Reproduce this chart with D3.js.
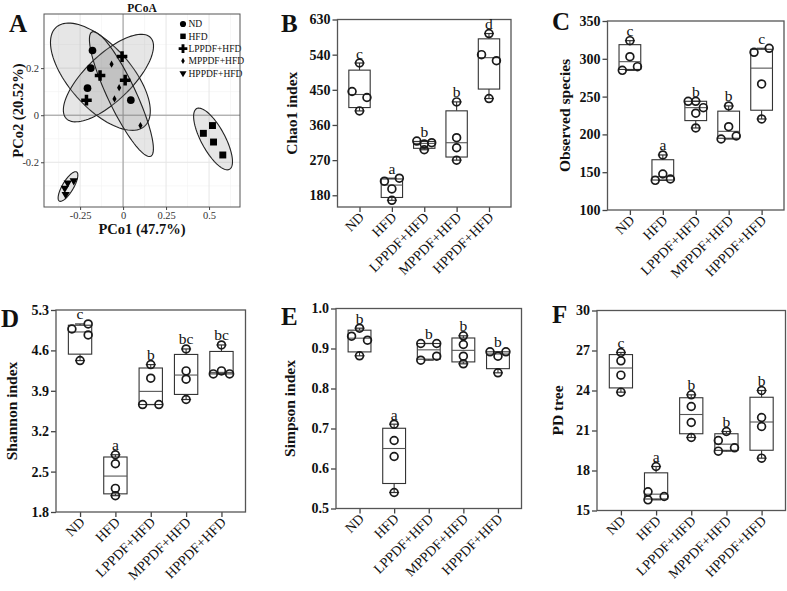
<!DOCTYPE html>
<html><head><meta charset="utf-8">
<script src="https://cdn.jsdelivr.net/npm/d3@7"></script>
<style>
body{margin:0;background:#fff}
svg{display:block}
text{font-family:"Liberation Serif","Times New Roman",serif}
</style>
</head><body>
<svg id="chart" width="787" height="591"></svg>
<script>
// ---------------- DATA ----------------
const groups = ["ND","HFD","LPPDF+HFD","MPPDF+HFD","HPPDF+HFD"];

// PCoA coordinates [PCo1, PCo2]
const pcoaND    = [[-0.178,0.275],[-0.188,0.200],[-0.207,0.115],[0.045,0.064]];
const pcoaHFD   = [[0.467,-0.077],[0.520,-0.044],[0.526,-0.114],[0.580,-0.169]];
const pcoaLPPDF = [[-0.006,0.249],[-0.134,0.169],[0.012,0.149],[-0.213,0.064]];
const pcoaMPPDF = [[-0.067,0.217],[-0.023,0.117],[-0.050,0.069],[0.101,-0.044]];
const pcoaHPPDF = [[-0.287,-0.278],[-0.322,-0.288],[-0.339,-0.310],[-0.334,-0.336]];
const pcoaXTicks = [-0.25,0,0.25,0.5];
const pcoaYTicks = [-0.2,0,0.2];

// Chao1 index
const chao1 = [[518.6,445.7,430.3,396.0],[223.7,216.0,196.3,167.1],[318.9,311.1,314.6,296.6],[419.1,327.4,301.7,270.0],[594.0,540.0,524.5,427.7]];
const chao1Jitter = [[0,-1,1,0],[1,-1,0,0],[-1,0,1,0],[0,0,0,0],[0,-1,1,0]];
const chao1Letters = ["c","a","b","b","d"];
const chao1Ticks = [180,270,360,450,540,630];

// Observed species
const observed = [[324.0,302.8,289.6,284.7],[172.8,147.6,141.0,139.2],[243.8,243.8,235.4,228.0,208.5],[237.6,210.2,197.9,193.9],[313.9,308.6,266.7,220.4]];
const observedJitter = [[0,0,1,-1],[0,0,1,-1],[-1,0,1,0,0],[0,0,1,-1],[1,-1,0,0]];
const observedLetters = ["c","a","b","b","c"];
const observedTicks = [100,150,200,250,300,350];

// Shannon index
const shannon = [[5.058,4.971,4.868,4.424],[2.792,2.636,2.209,2.083],[4.354,4.118,3.662,3.662],[4.625,4.245,4.101,3.749],[4.694,4.245,4.193,4.193]];
const shannonJitter = [[1,-1,1,0],[0,0,0,0],[0,0,-1,1],[0,0,0,0],[0,0,-1,1]];
const shannonLetters = ["c","a","b","bc","bc"];
const shannonTicks = [1.8,2.5,3.2,3.9,4.6,5.3];

// Simpson index
const simpson = [[0.9508,0.9308,0.9208,0.8817],[0.7108,0.670,0.630,0.540],[0.9125,0.9125,0.8808,0.8708],[0.9317,0.910,0.8808,0.8617],[0.8917,0.8917,0.8808,0.8392]];
const simpsonJitter = [[0,-1,1,0],[0,0,0,0],[-1,1,1,-1],[0,0,0,0],[-1,1,0,0]];
const simpsonLetters = ["b","a","b","b","b"];
const simpsonTicks = [0.5,0.6,0.7,0.8,0.9,1.0];

// PD tree
const pdtree = [[26.85,26.225,25.15,23.875],[18.3,16.4,16.05,15.8],[23.675,22.8,21.6,20.475],[20.925,20.25,19.7,19.45],[24.0,21.975,21.3,18.925]];
const pdtreeJitter = [[0,0,0,0],[0,-1,1,-1],[0,0,0,0],[0,-1,1,-1],[0,0,0,0]];
const pdtreeLetters = ["c","a","b","b","b"];
const pdtreeTicks = [15,18,21,24,27,30];

// ---------------- DRAWING ----------------
const svg = d3.select("#chart");
const SERIF = '"Liberation Serif","Times New Roman",serif';

function quart(sorted, p){ // (n+1)p quantile method
  const n = sorted.length, h = (n+1)*p;
  if (h <= 1) return sorted[0];
  if (h >= n) return sorted[n-1];
  const lo = Math.floor(h);
  return sorted[lo-1] + (h-lo)*(sorted[lo]-sorted[lo-1]);
}

function panelLetter(t, x, y){
  svg.append("text").attr("x",x).attr("y",y).text(t)
    .attr("font-size",25).attr("font-weight","bold").attr("fill","#111");
}

function boxPanel(o){
  const g = svg.append("g");
  const x = d3.scalePoint().domain(groups).range([o.l,o.r]).padding(0.68);
  const y = d3.scaleLinear().domain(o.domain).range([o.b,o.t]);
  const step = x.step(), bw = step*0.66, ju = step*0.23, cap = 10;

  // y axis
  g.append("g").attr("transform",`translate(${o.l},0)`)
    .call(d3.axisLeft(y).tickValues(o.ticks).tickSize(5).tickPadding(2).tickFormat(o.fmt))
    .call(s=>{
      s.select(".domain").remove();
      s.selectAll("line").attr("stroke","#444").attr("stroke-width",1.3);
      s.selectAll("text").attr("font-size",14).attr("font-weight","bold").attr("fill","#111").attr("font-family",SERIF);
    });
  // x axis
  g.append("g").attr("transform",`translate(0,${o.b})`)
    .call(d3.axisBottom(x).tickSize(5))
    .call(s=>{
      s.select(".domain").remove();
      s.selectAll("line").attr("stroke","#444").attr("stroke-width",1.3);
      s.selectAll("text").attr("x",0).attr("y",0).attr("dy",0)
        .attr("transform","translate(5,11) rotate(-45)")
        .attr("text-anchor","end").attr("font-size",14).attr("fill","#111").attr("font-family",SERIF);
    });
  // frame
  g.append("rect").attr("x",o.l).attr("y",o.t).attr("width",o.r-o.l).attr("height",o.b-o.t)
    .attr("fill","none").attr("stroke","#555").attr("stroke-width",1.3);

  o.values.forEach((vals,i)=>{
    const cx = x(groups[i]);
    const s = vals.slice().sort(d3.ascending);
    const q1 = quart(s,0.25), med = quart(s,0.5), q3 = quart(s,0.75);
    const mn = s[0], mx = s[s.length-1];
    const bg = g.append("g");
    // whiskers
    bg.append("line").attr("x1",cx).attr("x2",cx).attr("y1",y(q3)).attr("y2",y(mx)).attr("stroke","#333").attr("stroke-width",1.1);
    bg.append("line").attr("x1",cx).attr("x2",cx).attr("y1",y(q1)).attr("y2",y(mn)).attr("stroke","#333").attr("stroke-width",1.1);
    // box
    bg.append("rect").attr("x",cx-bw/2).attr("y",y(q3)).attr("width",bw).attr("height",y(q1)-y(q3))
      .attr("fill","#fff").attr("stroke","#333").attr("stroke-width",1.1);
    bg.append("line").attr("x1",cx-bw/2).attr("x2",cx+bw/2).attr("y1",y(med)).attr("y2",y(med)).attr("stroke","#555").attr("stroke-width",1.1);
    // caps
    [mn,mx].forEach(v=>{
      bg.append("line").attr("x1",cx-cap/2).attr("x2",cx+cap/2).attr("y1",y(v)).attr("y2",y(v)).attr("stroke","#333").attr("stroke-width",1.2);
    });
    // points
    vals.forEach((v,j)=>{
      bg.append("circle").attr("cx",cx + o.jitter[i][j]*ju).attr("cy",y(v)).attr("r",3.9)
        .attr("fill","none").attr("stroke","#1a1a1a").attr("stroke-width",1.7);
    });
    // significance letter
    bg.append("text").attr("x",cx).attr("y",y(mx)-4.5).attr("text-anchor","middle")
      .attr("font-size",15.5).attr("fill","#111").text(o.letters[i]);
  });

  // y title
  svg.append("text").attr("transform",`translate(${o.tx},${(o.t+o.b)/2}) rotate(-90)`)
    .attr("text-anchor","middle").attr("font-size",15.5).attr("font-weight","bold").attr("fill","#111").text(o.title);
  panelLetter(o.letter, o.lx, o.ly);
}

// ----- Panel A : PCoA -----
(function(){
  const L=44, R=240, T=14, B=207;
  const x = d3.scaleLinear().domain([-0.46,0.68]).range([L,R]);
  const y = d3.scaleLinear().domain([-0.39,0.43]).range([B,T]);
  const g = svg.append("g");
  const minorX = [-0.375,-0.125,0.125,0.375,0.625], minorY = [-0.3,-0.1,0.1,0.3];
  minorX.forEach(v=>g.append("line").attr("x1",x(v)).attr("x2",x(v)).attr("y1",T).attr("y2",B).attr("stroke","#f1f1f1").attr("stroke-width",0.6));
  minorY.forEach(v=>g.append("line").attr("y1",y(v)).attr("y2",y(v)).attr("x1",L).attr("x2",R).attr("stroke","#f1f1f1").attr("stroke-width",0.6));
  pcoaXTicks.forEach(v=>g.append("line").attr("x1",x(v)).attr("x2",x(v)).attr("y1",T).attr("y2",B).attr("stroke","#e6e6e6").attr("stroke-width",1));
  pcoaYTicks.forEach(v=>g.append("line").attr("y1",y(v)).attr("y2",y(v)).attr("x1",L).attr("x2",R).attr("stroke","#e6e6e6").attr("stroke-width",1));
  // zero reference lines
  g.append("line").attr("x1",x(0)).attr("x2",x(0)).attr("y1",T).attr("y2",B).attr("stroke","#999").attr("stroke-width",1);
  g.append("line").attr("y1",y(0)).attr("y2",y(0)).attr("x1",L).attr("x2",R).attr("stroke","#999").attr("stroke-width",1);

  const sets = [pcoaND,pcoaHFD,pcoaLPPDF,pcoaMPPDF,pcoaHPPDF];
  // 95% normal confidence ellipses computed from each group's points
  const k = Math.sqrt(5.991);
  sets.forEach(pts=>{
    const n = pts.length;
    const mx = d3.mean(pts,d=>d[0]), my = d3.mean(pts,d=>d[1]);
    let sxx=0, syy=0, sxy=0;
    pts.forEach(p=>{ sxx+=(p[0]-mx)**2; syy+=(p[1]-my)**2; sxy+=(p[0]-mx)*(p[1]-my); });
    sxx/=(n-1); syy/=(n-1); sxy/=(n-1);
    const tr = sxx+syy, det = sxx*syy-sxy*sxy;
    const l1 = tr/2 + Math.sqrt(tr*tr/4-det), l2 = tr/2 - Math.sqrt(tr*tr/4-det);
    let vx, vy;
    if (Math.abs(sxy) > 1e-12){ vx = l1-syy; vy = sxy; } else { vx = sxx>=syy?1:0; vy = sxx>=syy?0:1; }
    const nn = Math.hypot(vx,vy); vx/=nn; vy/=nn;
    const a = k*Math.sqrt(l1), b = k*Math.sqrt(Math.max(l2,0));
    const ring = d3.range(0,101).map(i=>{
      const t = i/100*2*Math.PI;
      const ex = a*Math.cos(t), ey = b*Math.sin(t);
      return [x(mx + ex*vx - ey*vy), y(my + ex*vy + ey*vx)];
    });
    g.append("path").attr("d",d3.line()(ring)+"Z").attr("fill","#808080").attr("fill-opacity",0.2)
      .attr("stroke","#222").attr("stroke-width",1.1);
  });

  const shapes = [
    {type:d3.symbolCircle, size:46, rot:0, lsize:30},
    {type:d3.symbolSquare, size:48, rot:0, lsize:30},
    {type:d3.symbolCross, size:62, rot:0, lsize:42},
    {type:d3.symbolDiamond, size:15, rot:0, lsize:11},
    {type:d3.symbolTriangle, size:30, rot:180, lsize:22}
  ];
  sets.forEach((pts,i)=>{
    pts.forEach(p=>{
      g.append("path").attr("d",d3.symbol().type(shapes[i].type).size(shapes[i].size)())
        .attr("transform",`translate(${x(p[0])},${y(p[1])}) rotate(${shapes[i].rot})`).attr("fill","#000");
    });
  });
  // legend
  groups.forEach((gname,i)=>{
    const ly = 24 + i*12.3;
    g.append("path").attr("d",d3.symbol().type(shapes[i].type).size(shapes[i].lsize)())
      .attr("transform",`translate(183,${ly}) rotate(${shapes[i].rot})`).attr("fill","#000");
    g.append("text").attr("x",188.5).attr("y",ly+3.3).attr("font-size",9.5).attr("fill","#111").text(gname);
  });
  // frame
  g.append("rect").attr("x",L).attr("y",T).attr("width",R-L).attr("height",B-T).attr("fill","none").attr("stroke","#555").attr("stroke-width",1);
  // axes
  g.append("g").attr("transform",`translate(0,${B})`)
    .call(d3.axisBottom(x).tickValues(pcoaXTicks).tickSize(3).tickPadding(2).tickFormat(d=>d===0?"0":String(d)))
    .call(s=>{ s.select(".domain").remove(); s.selectAll("line").attr("stroke","#444");
      s.selectAll("text").attr("font-size",10.5).attr("fill","#333").attr("font-family",SERIF); });
  g.append("g").attr("transform",`translate(${L},0)`)
    .call(d3.axisLeft(y).tickValues(pcoaYTicks).tickSize(3).tickPadding(2).tickFormat(d=>d===0?"0":String(d)))
    .call(s=>{ s.select(".domain").remove(); s.selectAll("line").attr("stroke","#444");
      s.selectAll("text").attr("font-size",10.5).attr("fill","#333").attr("font-family",SERIF); });
  svg.append("text").attr("x",(L+R)/2).attr("y",234).attr("text-anchor","middle").attr("font-size",14.5).attr("font-weight","bold").attr("fill","#111").text("PCo1 (47.7%)");
  svg.append("text").attr("transform",`translate(23,${(T+B)/2}) rotate(-90)`).attr("text-anchor","middle").attr("font-size",14.5).attr("font-weight","bold").attr("fill","#111").text("PCo2 (20.52%)");
  svg.append("text").attr("x",(L+R)/2).attr("y",12).attr("text-anchor","middle").attr("font-size",11.5).attr("font-weight","bold").attr("fill","#111").text("PCoA");
  panelLetter("A",9,32);
})();

boxPanel({values:chao1, jitter:chao1Jitter, letters:chao1Letters, ticks:chao1Ticks, domain:[150,630], fmt:d3.format("d"),
  l:337.5, r:511, t:19.5, b:207, title:"Chao1 index", tx:297, letter:"B", lx:281, ly:32});
boxPanel({values:observed, jitter:observedJitter, letters:observedLetters, ticks:observedTicks, domain:[100,350], fmt:d3.format("d"),
  l:607.5, r:784, t:21, b:210, title:"Observed species", tx:570, letter:"C", lx:552, ly:30});
boxPanel({values:shannon, jitter:shannonJitter, letters:shannonLetters, ticks:shannonTicks, domain:[1.8,5.3], fmt:d3.format(".1f"),
  l:56, r:245.5, t:310, b:512, title:"Shannon index", tx:17, letter:"D", lx:1, ly:327});
boxPanel({values:simpson, jitter:simpsonJitter, letters:simpsonLetters, ticks:simpsonTicks, domain:[0.5,1.0], fmt:d3.format(".1f"),
  l:336, r:521.5, t:308.5, b:508.5, title:"Simpson index", tx:295, letter:"E", lx:281, ly:325});
boxPanel({values:pdtree, jitter:pdtreeJitter, letters:pdtreeLetters, ticks:pdtreeTicks, domain:[15,30], fmt:d3.format("d"),
  l:597, r:785.5, t:310.5, b:510.5, title:"PD tree", tx:563, letter:"F", lx:552, ly:323});
</script>
</body></html>
